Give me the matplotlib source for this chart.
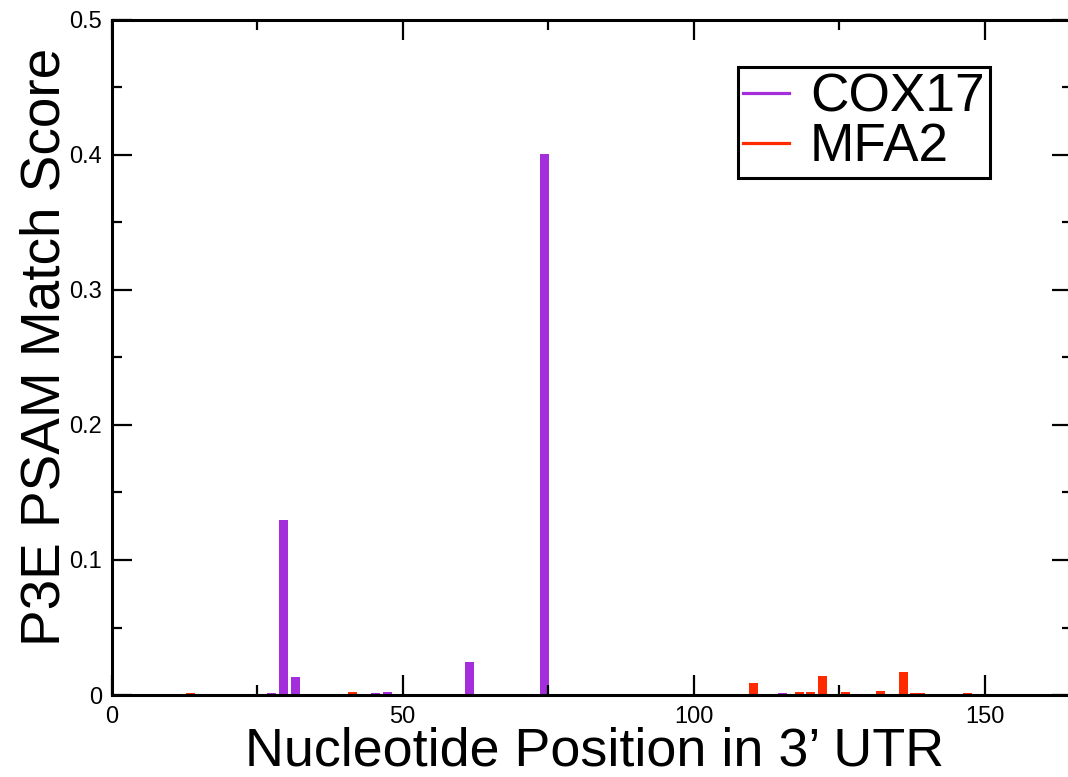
import matplotlib
matplotlib.use("Agg")
import matplotlib.pyplot as plt
from matplotlib.lines import Line2D
from matplotlib.ticker import MultipleLocator

# scores
cox17_pos = [27.5, 29.5, 31.5, 45.4, 47.4, 61.4, 74.3, 115.2]
cox17_val = [0.0015, 0.130, 0.0133, 0.0017, 0.0022, 0.0242, 0.401, 0.0015]

mfa2_pos = [13.5, 41.4, 110.2, 118.1, 120.1, 122.1, 126.1, 132.1, 136.1, 138.0, 139.0, 147.0]
mfa2_val = [0.0015, 0.0020, 0.0087, 0.0020, 0.0020, 0.0143, 0.0025, 0.0032, 0.0168, 0.0018, 0.0018, 0.0014]

labels = ["COX17", "MFA2"]
purple = "#a52edc"
red = "#ff2a00"

plt.rcParams["font.family"] = ["Liberation Sans", "DejaVu Sans"]

W, H = 1068, 777
fig = plt.figure(figsize=(W / 100, H / 100), dpi=100)
x0, x1, ytop, ybot = 111.7, 1072.0, 20.0, 695.0
ax = fig.add_axes([x0 / W, 1 - ybot / H, (x1 - x0) / W, (ybot - ytop) / H])

bw = 1.55
ax.bar(cox17_pos, cox17_val, width=bw, color=purple, linewidth=0)
ax.bar(mfa2_pos, mfa2_val, width=bw, color=red, linewidth=0)

ax.set_xlim(0, 165)
ax.set_ylim(0, 0.5)
ax.xaxis.set_major_locator(MultipleLocator(50))
ax.xaxis.set_minor_locator(MultipleLocator(25))
ax.yaxis.set_major_locator(MultipleLocator(0.1))
ax.yaxis.set_minor_locator(MultipleLocator(0.05))
ax.yaxis.set_major_formatter(plt.FuncFormatter(lambda v, p: "0" if v == 0 else f"{v:.1f}"))

for s in ax.spines.values():
    s.set_linewidth(2.2)
ax.tick_params(which="both", direction="in", top=True, right=True, width=1.6, labelsize=17)
ax.tick_params(which="major", length=14.4)
ax.tick_params(which="minor", length=7.2)
ax.tick_params(axis="x", pad=8)
ax.tick_params(axis="y", pad=7)

fig.text(595 / W, 1 - 766 / H, "Nucleotide Position in 3\u2019 UTR", fontsize=38.8,
         ha="center", va="baseline")
fig.text(60 / W, 1 - 347 / H, "P3E PSAM Match Score", fontsize=39.5, rotation=90,
         rotation_mode="anchor", ha="center", va="baseline")

handles = [Line2D([], [], color=purple, lw=2.3), Line2D([], [], color=red, lw=2.3)]
leg = ax.legend(handles, labels, loc="upper left",
                bbox_to_anchor=(738 / W, 1 - 67 / H), bbox_transform=fig.transFigure,
                fontsize=38.3, handlelength=0.85, handletextpad=0.4, borderpad=0.1,
                labelspacing=0.0, borderaxespad=0, fancybox=False, framealpha=1)
leg.get_frame().set_edgecolor("black")
leg.get_frame().set_linewidth(2.2)

fig.savefig("out.png", dpi=100)
